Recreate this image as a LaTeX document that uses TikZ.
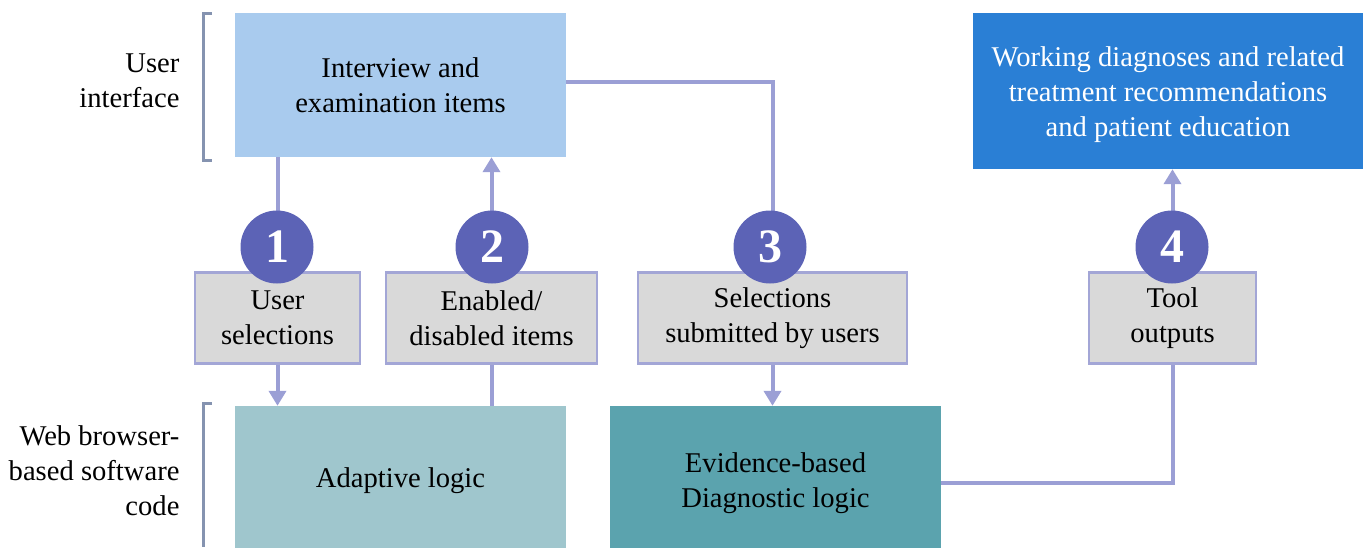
\documentclass[tikz,border=0pt]{standalone}
\usepackage{fontspec}
\setmainfont{Liberation Serif}
\usetikzlibrary{arrows.meta}
\definecolor{ivfill}{HTML}{A9CBEE}
\definecolor{outfill}{HTML}{2A7FD5}
\definecolor{alfill}{HTML}{9FC6CD}
\definecolor{dlfill}{HTML}{5BA3AE}
\definecolor{grayfill}{HTML}{D9D9D9}
\definecolor{boxedge}{HTML}{A3A6D6}
\definecolor{linec}{HTML}{9B9FD5}
\definecolor{circc}{HTML}{5C63B6}
\definecolor{brackc}{HTML}{8593B0}
\tikzset{
  txt/.style={font=\fontsize{28.6}{35}\selectfont, align=center},
  bigbox/.style={txt, draw=none, inner sep=0pt},
  smallbox/.style={txt, fill=grayfill, draw=boxedge, line width=2.5pt, minimum width=165pt, minimum height=91pt, inner sep=0pt},
  numc/.style={circle, fill=circc, minimum size=73pt, inner sep=0pt, text=white, font=\fontsize{48}{48}\selectfont\bfseries},
  conn/.style={draw=linec, line width=4pt},
  arr/.style={conn, -{Triangle[width=17pt,length=15pt]}},
  brack/.style={draw=brackc, line width=3pt},
  side/.style={txt, align=right, anchor=east},
}
\begin{document}
\begin{tikzpicture}[x=1pt, y=-1pt]
\useasboundingbox (0,0) rectangle (1363,547);
% big boxes
\node[bigbox, fill=ivfill, minimum width=331pt, minimum height=144pt] (iv) at (400.5,85) {Interview and\\examination items};
\node[bigbox, fill=outfill, text=white, minimum width=390pt, minimum height=156pt] (out) at (1168,91) {};
\node[txt, text=white] (outtxt) at (1168,95) {Working diagnoses and related\\treatment recommendations\\and patient education};
\node[bigbox, fill=alfill, minimum width=331pt, minimum height=150pt] (al) at (400.5,481) {Adaptive logic};
\node[bigbox, fill=dlfill, minimum width=331pt, minimum height=154pt] (dl) at (775.5,483) {Evidence-based\\Diagnostic logic};
% small boxes
\node[smallbox] (b1) at (277.5,318) {User\\selections};
\node[smallbox, minimum width=211pt] (b2) at (491.5,318) {Enabled/\\disabled items};
\node[smallbox, minimum width=269pt] (b3) at (772.5,318) {Selections\\submitted by users};
\node[smallbox, minimum width=167pt] (b4) at (1172.5,318) {Tool\\outputs};
% helper coordinates
\coordinate (ivr) at (566,82);
\coordinate (dlr) at (941,483);
% connectors
\draw[conn] (iv.south -| b1) -- (b1.north);
\draw[arr] (b1.south) -- (al.north -| b1);
\draw[conn] (al.north -| b2) -- (b2.south);
\draw[arr] (b2.north) -- (iv.south -| b2);
\draw[conn] (ivr) -- (ivr -| b3) -- (b3.north);
\draw[arr] (b3.south) -- (dl.north -| b3);
\draw[conn] (dlr) -- (dlr -| b4) -- (b4.south);
\draw[arr] (b4.north) -- (out.south -| b4);
% numbered circles
\node[numc] (c1) at (277,247) {1};
\node[numc] (c2) at (492,247) {2};
\node[numc] (c3) at (770,247) {3};
\node[numc] (c4) at (1172,247) {4};
% brackets
\draw[brack] (212,13) -- (203,13) -- (203,160) -- (212,160);
\draw[brack] (212,403) -- (203,403) -- (203,547);
% side labels
\node[side] (ui) at (183,81) {User\\interface};
\node[side] (wb) at (183,471) {Web browser-\\based software\\code};
\end{tikzpicture}
\end{document}
